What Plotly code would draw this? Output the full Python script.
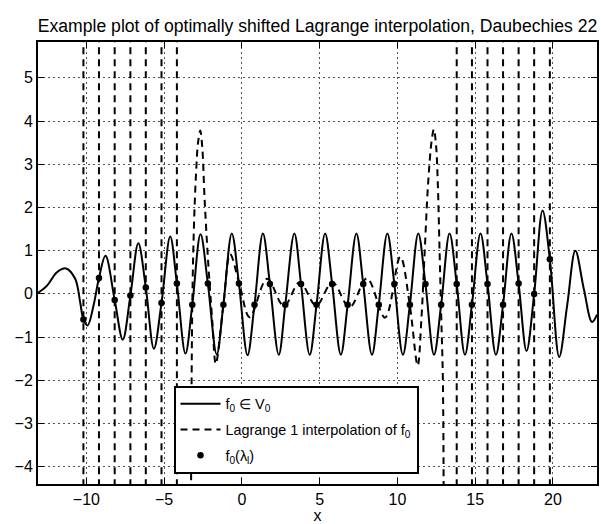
import plotly.graph_objects as go

# ---------------- data ----------------
# f0 in V0 : local extrema and a few shape points of the solid curve
f0_x = [-13.11, -12.53, -11.89, -11.31, -10.72, -10.40, -9.92, -9.54, -8.77,
        -7.66, -6.66, -5.66, -4.61, -3.63, -2.66, -1.62, -0.65, 0.36, 1.35,
        2.37, 3.37, 4.36, 5.35, 6.36, 7.36, 8.36, 9.35, 10.35, 11.34, 12.35,
        13.35, 14.34, 15.34, 16.33, 17.33, 18.30, 19.33, 20.40, 20.91, 21.44,
        21.98, 22.51, 22.83]
f0_y = [0.02, 0.19, 0.50, 0.59, 0.35, -0.19, -0.73, -0.27, 0.88,
        -1.06, 1.17, -1.27, 1.33, -1.38, 1.38, -1.40, 1.40, -1.42, 1.40,
        -1.41, 1.40, -1.41, 1.40, -1.41, 1.40, -1.41, 1.40, -1.41, 1.40, -1.41,
        1.40, -1.41, 1.40, -1.41, 1.40, -1.32, 1.93, -1.46, -0.27, 1.00,
        0.12, -0.65, -0.48]

# samples f0(lambda_l)
lam_x = [-10.19, -9.19, -8.18, -7.17, -6.18, -5.17, -4.18, -3.19, -2.19, -1.19,
         -0.19, 0.81, 1.80, 2.79, 3.80, 4.80, 5.80, 6.80, 7.80, 8.80,
         9.80, 10.80, 11.80, 12.81, 13.81, 14.79, 15.79, 16.79, 17.79, 18.79,
         19.80]
lam_y = [-0.59, 0.37, -0.14, -0.04, 0.15, -0.21, 0.24, -0.25, 0.24, -0.25,
         0.24, -0.25, 0.23, -0.25, 0.23, -0.25, 0.23, -0.25, 0.23, -0.25,
         0.23, -0.25, 0.23, -0.25, 0.23, -0.25, 0.23, -0.25, 0.24, 0.00,
         0.80]

# Lagrange 1 interpolation of f0 (part that stays inside the axes)
lag_x = [-3.27, -3.19, -3.08, -2.94, -2.82, -2.68, -2.55, -2.40, -2.18, -1.90,
         -1.68, -1.19, -0.76, -0.17, 0.50, 1.62, 2.70, 3.72, 4.77, 5.82,
         6.92, 8.04, 9.20, 10.18, 10.79, 11.30, 11.54, 11.75, 11.96, 12.20,
         12.34, 12.48, 12.60, 12.71, 12.82, 12.92, 12.97]
lag_y = [-4.6, -0.25, 1.6, 2.85, 3.5, 3.78, 3.4, 2.2, 0.8, -0.65,
         -1.62, -0.25, 0.92, 0.24, -0.54, 0.35, -0.28, 0.27, -0.27, 0.27,
         -0.31, 0.36, -0.55, 0.86, -0.25, -1.66, -0.58, 0.96, 2.49, 3.55,
         3.81, 3.45, 2.49, 0.96, -0.58, -1.96, -4.6]

# where the interpolant leaves the axes (runs off to +/- large values)
blow_x = [-10.19, -9.19, -8.18, -7.17, -6.18, -5.17, -4.18,
          13.81, 14.79, 15.79, 16.79, 17.79, 18.79, 19.80]
blow_lo, blow_hi = -50.0, 50.0

x_ticks = [-10, -5, 0, 5, 10, 15, 20]
y_ticks = [-4, -3, -2, -1, 0, 1, 2, 3, 4, 5]

# ---------------- build traces ----------------
pts = sorted(zip(f0_x + lam_x, f0_y + lam_y))
sx = [p[0] for p in pts]
sy = [p[1] for p in pts]

bx, by = [], []
for xv in blow_x:
    bx += [xv, xv, None]
    by += [blow_lo, blow_hi, None]

FONT = "Liberation Sans, Arial, Helvetica, sans-serif"
DASH = "7px,5px"

fig = go.Figure()
fig.add_trace(go.Scatter(x=sx, y=sy, mode="lines",
                         line=dict(color="black", width=2, shape="spline", smoothing=1.0),
                         name="f<sub>0</sub> ∈ V<sub>0</sub>", legendgroup="g1"))
fig.add_trace(go.Scatter(x=lag_x, y=lag_y, mode="lines",
                         line=dict(color="black", width=2, dash=DASH, shape="spline", smoothing=1.0),
                         name="Lagrange 1 interpolation of f<sub>0</sub>", legendgroup="g2"))
fig.add_trace(go.Scatter(x=bx, y=by, mode="lines",
                         line=dict(color="black", width=2, dash=DASH),
                         showlegend=False, legendgroup="g2", connectgaps=False))
fig.add_trace(go.Scatter(x=lam_x, y=lam_y, mode="markers",
                         marker=dict(color="black", size=6.5),
                         name="f<sub>0</sub>(λ<sub>l</sub>)", legendgroup="g3"))

axis_common = dict(showline=True, linecolor="black", linewidth=2, mirror="allticks",
                   ticks="inside", ticklen=6, tickwidth=1, tickcolor="black",
                   showgrid=True, gridcolor="#555555", gridwidth=1, griddash="2px,3px",
                   zeroline=False,
                   tickfont=dict(family=FONT, size=16, color="black"))

fig.update_layout(
    width=601, height=524,
    margin=dict(l=38, r=2, t=42, b=38),
    paper_bgcolor="white", plot_bgcolor="white",
    font=dict(family=FONT, size=16, color="black"),
    title=dict(text="Example plot of optimally shifted Lagrange interpolation, Daubechies 22",
               x=0.5, xref="paper", xanchor="center",
               y=1 - 26 / 524, yref="container", yanchor="middle",
               font=dict(family=FONT, size=17.6, color="black")),
    xaxis=dict(range=[-13.11, 22.83], tickvals=x_ticks,
               title=dict(text="x", standoff=3, font=dict(family=FONT, size=16)),
               **axis_common),
    yaxis=dict(range=[-4.40, 5.83], tickvals=y_ticks, **axis_common),
    legend=dict(x=0.2424, y=0.222, xanchor="left", yanchor="top",
                bgcolor="white", bordercolor="black", borderwidth=2,
                font=dict(family=FONT, size=14.4, color="black"),
                tracegroupgap=4, itemwidth=40, traceorder="grouped"),
    showlegend=True,
)

fig.write_html("out.html")
